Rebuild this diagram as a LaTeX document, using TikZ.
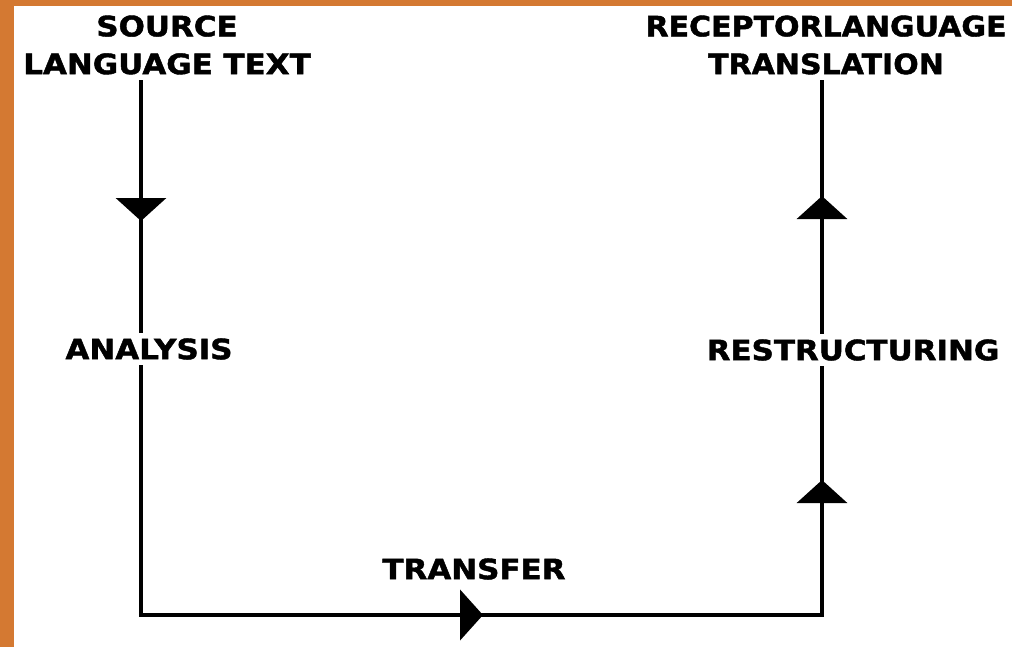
\documentclass[tikz,border=0pt]{standalone}
\usepackage{fontspec}
\usepackage{tikz}
\usetikzlibrary{arrows.meta}
\newfontfamily\lblfont{DejaVu Sans}[BoldFeatures={FakeBold=1.5}]
\definecolor{frameorange}{RGB}{212,121,50}

\begin{document}
\begin{tikzpicture}[x=0.02cm, y=-0.02cm,
    lbl/.style={font=\lblfont\bfseries\fontsize{16}{21.5}\selectfont, align=center, inner sep=4pt, xscale=1.1},
    edge/.style={line width=2pt, line cap=rect},
    flow/.style={line width=2pt, line cap=rect, -{Triangle[width=1cm, length=0.46cm]}}]
            % Frame and page
            \useasboundingbox (0,0) rectangle (1012,647);
            \fill[white] (0,0) rectangle (1012,647);
            \fill[frameorange] (0,0) rectangle (1012,6);
            \fill[frameorange] (0,0) rectangle (14,647);

            % Define labels
            \node[lbl] (V_src) at (167,45) {SOURCE\\LANGUAGE TEXT};
            \node[lbl, xscale=0.97] (V_tgt) at (826,45) {RECEPTORLANGUAGE\\TRANSLATION};
            \node[lbl] (V_ana) at (149,349) {ANALYSIS};
            \node[lbl] (V_res) at (853,350) {RESTRUCTURING};
            \node[lbl] (V_tra) at (474,569) {TRANSFER};

            % Define corners and arrow tips
            \coordinate (C_L) at (141,615);
            \coordinate (C_R) at (822,615);
            \coordinate (T_1) at (141,221);
            \coordinate (T_2) at (483,615);
            \coordinate (T_3) at (822,480);
            \coordinate (T_4) at (822,196);

            % Draw edges
            \draw[flow] (V_src.south -| C_L) -- (T_1);
            \draw[edge] (T_1) -- (V_ana.north -| C_L);
            \draw[edge] (V_ana.south -| C_L) -- (C_L);
            \draw[flow, line width=2.8pt] (C_L) -- (T_2);
            \draw[edge, line width=2.8pt] (T_2) -- (C_R);
            \draw[flow] (C_R) -- (T_3);
            \draw[edge] (T_3) -- (V_res.south -| C_R);
            \draw[flow] (V_res.north -| C_R) -- (T_4);
            \draw[edge] (T_4) -- (V_tgt.south -| C_R);
        \end{tikzpicture}
\end{document}
